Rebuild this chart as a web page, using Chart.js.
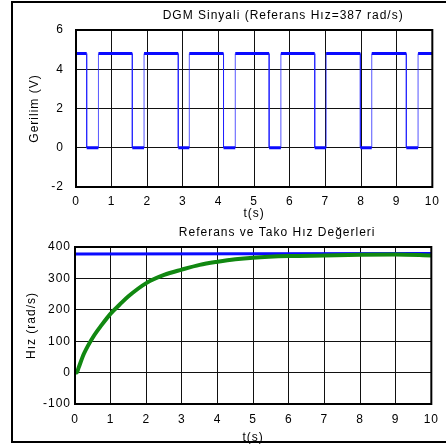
<!DOCTYPE html>
<html>
<head>
<meta charset="utf-8">
<script src="https://cdn.jsdelivr.net/npm/chart.js@4.4.1/dist/chart.umd.min.js"></script>
<style>
    html, body { margin: 0; padding: 0; background: #fff; overflow: hidden; width: 446px; height: 445px; }
    #frame { position: absolute; left: 11px; top: 1px; width: 460px; height: 438px; border: 2px solid #000; }
    #pwm-canvas   { position: absolute; left: 0; top: 0; }
    #speed-canvas { position: absolute; left: 0; top: 222px; }
</style>
</head>
<body>
<div id="frame"></div>
<canvas id="pwm-canvas" width="446" height="222"></canvas>
<canvas id="speed-canvas" width="446" height="223"></canvas>
<script>
// ─── Data ────────────────────────────────────────────

// DGM (PWM) signal: edge times in seconds and the two levels in volts
var fallTimes = [0.30, 1.58, 2.87, 4.14, 5.42, 6.70, 7.98, 9.27];
var riseTimes = [0.63, 1.91, 3.18, 4.47, 5.75, 7.02, 8.30, 9.60];
var highLevel = 4.8;
var lowLevel  = 0;

// Reference and tacho speed, rad/s
var refTime    = [0, 10];
var refSpeed   = [378, 379];
var takoTime   = [0, 0.05, 0.1, 0.25, 0.5, 0.75, 1, 1.25, 1.5, 2, 2.5, 3, 3.5, 4, 4.5, 5, 6, 7, 8, 9, 10];
var takoSpeed  = [8, 0, 15, 60, 112, 152, 188, 216, 243, 285, 311, 328, 343, 353, 361, 366, 371, 373, 375, 376, 373];

var xTicks      = [0, 10, 1];      // min, max, step
var pwmYTicks   = [-2, 6, 2];
var speedYTicks = [-100, 400, 100];

// ─── Helpers ─────────────────────────────────────────

var FONT = '"Liberation Sans", Arial, sans-serif';
var tickFont = { family: FONT, size: 12 };

function xy(xs, ys) {
    return xs.map(function(x, i) { return { x: x, y: ys[i] }; });
}

function pwmPoints() {
    var pts = [{ x: 0, y: highLevel }];
    fallTimes.forEach(function(f, i) {
        pts.push({ x: f, y: highLevel }, { x: f, y: lowLevel });
        pts.push({ x: riseTimes[i], y: lowLevel }, { x: riseTimes[i], y: highLevel });
    });
    pts.push({ x: 10, y: highLevel });
    return pts;
}

// plot frame + off-centre title, letter spaced text like the original
var boxPlugin = {
    id: 'box',
    beforeDraw: function(chart) { chart.ctx.letterSpacing = '1px'; },
    afterDraw: function(chart, args, opts) {
        var ctx = chart.ctx, a = chart.chartArea;
        ctx.save();
        ctx.strokeStyle = '#000';
        ctx.lineWidth = 2;
        ctx.strokeRect(a.left, a.top, a.right - a.left, a.bottom - a.top);
        ctx.font = '12px ' + FONT;
        ctx.letterSpacing = '1px';
        ctx.fillStyle = '#000';
        ctx.textAlign = 'center';
        ctx.textBaseline = 'middle';
        ctx.fillText(opts.text, (a.left + a.right) / 2 + opts.dx, opts.y);
        ctx.restore();
    }
};

function axes(yTicks, yWidth, yPad, yTitle, yTitlePad, xHeight, xPad, xTitlePad) {
    return {
        x: {
            type: 'linear', min: xTicks[0], max: xTicks[1],
            ticks: { stepSize: xTicks[2], padding: xPad, color: '#000', font: tickFont, maxRotation: 0, autoSkip: false },
            grid: { color: '#111', lineWidth: 1, drawTicks: false },
            border: { display: false },
            title: { display: true, text: 't(s)', color: '#000', font: tickFont, padding: { top: 0, bottom: xTitlePad } },
            afterFit: function(s) { s.height = xHeight; }
        },
        y: {
            min: yTicks[0], max: yTicks[1],
            ticks: { stepSize: yTicks[2], padding: yPad, color: '#000', font: tickFont },
            grid: { color: '#111', lineWidth: 1, drawTicks: false },
            border: { display: false },
            title: { display: true, text: yTitle, color: '#000', font: tickFont, padding: { top: yTitlePad, bottom: 0 } },
            afterFit: function(s) { s.width = yWidth; }
        }
    };
}

// ─── DGM chart ───────────────────────────────────────

new Chart(document.getElementById('pwm-canvas').getContext('2d'), {
    type: 'line',
    data: {
        datasets: [{
            data: pwmPoints(),
            borderColor: '#0a0aff',
            borderWidth: 3,
            borderCapStyle: 'butt',
            pointRadius: 0,
            tension: 0,
            segment: {
                borderWidth: function(c) { return c.p0.parsed.x === c.p1.parsed.x ? 1 : 3; },
                borderColor: function(c) { return c.p0.parsed.x === c.p1.parsed.x ? 'rgba(30,30,255,0.75)' : '#0a0aff'; }
            }
        }]
    },
    options: {
        responsive: false, animation: false,
        layout: { padding: { left: 0, right: 11, top: 30, bottom: 0 } },
        plugins: {
            legend: { display: false }, tooltip: { enabled: false },
            box: { text: 'DGM Sinyali (Referans H\u0131z=387 rad/s)', dx: 29, y: 16 }
        },
        scales: axes(pwmYTicks, 76, 12, 'Gerilim (V)', 27, 35, 7, 1)
    },
    plugins: [boxPlugin]
});

// ─── Speed chart ─────────────────────────────────────

new Chart(document.getElementById('speed-canvas').getContext('2d'), {
    type: 'line',
    data: {
        datasets: [{
            label: 'Tako',
            data: xy(takoTime, takoSpeed),
            borderColor: '#118811',
            borderWidth: 4,
            pointRadius: 0,
            cubicInterpolationMode: 'monotone'
        }, {
            label: 'Referans',
            data: xy(refTime, refSpeed),
            borderColor: '#0a0aff',
            borderWidth: 3,
            pointRadius: 0,
            tension: 0
        }]
    },
    options: {
        responsive: false, animation: false,
        layout: { padding: { left: 0, right: 12, top: 25, bottom: 0 } },
        plugins: {
            legend: { display: false }, tooltip: { enabled: false },
            box: { text: 'Referans ve Tako H\u0131z De\u011ferleri', dx: 24, y: 11 }
        },
        scales: axes(speedYTicks, 75, 4, 'H\u0131z (rad/s)', 24, 41, 8, 0)
    },
    plugins: [boxPlugin]
});
</script>
</body>
</html>
